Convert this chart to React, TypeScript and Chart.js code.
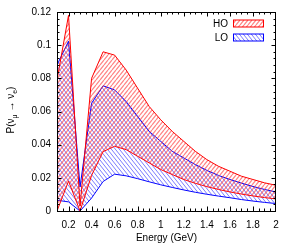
import React, { useEffect, useRef } from "react";
import { Chart, registerables } from "chart.js";

Chart.register(...registerables);

const energies = [0.1, 0.2, 0.3, 0.4, 0.5, 0.6, 0.7, 0.8, 0.9, 1.0, 1.1, 1.2, 1.3, 1.4, 1.5, 1.6, 1.7, 1.8, 1.9, 2.0];
const hoUpper = [0.079, 0.118, 0.003, 0.08, 0.096, 0.094, 0.085, 0.074, 0.063, 0.055, 0.048, 0.042, 0.036, 0.031, 0.027, 0.024, 0.021, 0.019, 0.017, 0.0155];
const hoLower = [0.0, 0.018, 0.0, 0.0215, 0.0358, 0.039, 0.037, 0.033, 0.029, 0.025, 0.022, 0.019, 0.0167, 0.0147, 0.013, 0.0115, 0.0102, 0.0091, 0.0081, 0.0073];
const loUpper = [0.088, 0.1024, 0.0145, 0.065, 0.0755, 0.073, 0.066, 0.057, 0.048, 0.042, 0.036, 0.032, 0.028, 0.0245, 0.0215, 0.019, 0.0168, 0.0148, 0.013, 0.0115];
const loLower = [0.0065, 0.0055, 0.0, 0.0078, 0.0178, 0.0222, 0.0212, 0.0195, 0.0176, 0.0158, 0.0142, 0.0127, 0.0113, 0.0101, 0.009, 0.008, 0.0069, 0.006, 0.0052, 0.0045];
const xTicks = [0.2, 0.4, 0.6, 0.8, 1.0, 1.2, 1.4, 1.6, 1.8, 2.0];
const yTicks = [0, 0.02, 0.04, 0.06, 0.08, 0.1, 0.12];
const seriesNames = ["HO", "LO"];
const xTitle = "Energy (GeV)";

const FONT = "'Liberation Sans', Arial, Helvetica, sans-serif";

function makePattern(color: string, forward: boolean, lw: number): CanvasPattern | string {
  const w = 4;
  const h = 5;
  const c = document.createElement("canvas");
  c.width = w;
  c.height = h;
  const g = c.getContext("2d");
  if (!g) return color;
  g.clearRect(0, 0, w, h);
  g.strokeStyle = color;
  g.lineWidth = lw;
  g.beginPath();
  for (const off of [-w, 0, w]) {
    if (forward) {
      g.moveTo(off, h);
      g.lineTo(off + w, 0);
    } else {
      g.moveTo(off, 0);
      g.lineTo(off + w, h);
    }
  }
  g.stroke();
  const p = g.createPattern(c, "repeat");
  return p || color;
}

const fmt = (v: number) => String(Number(v.toFixed(3)));

export default function App() {
  const ref = useRef<HTMLCanvasElement | null>(null);

  useEffect(() => {
    document.body.style.margin = "0";
    const canvas = ref.current;
    if (!canvas) return;
    const redPat = makePattern("rgba(255,50,50,0.6)", true, 1.2);
    const bluePat = makePattern("rgba(50,50,255,0.65)", false, 1.0);
    const red = "rgb(255,0,0)";
    const blue = "rgb(0,0,255)";
    const toPts = (arr: number[]) => arr.map((v, i) => ({ x: energies[i], y: v }));

    const decor = {
      id: "decor",
      afterDraw(chart: any) {
        const ctx = chart.ctx;
        const a = chart.chartArea;
        const xs = chart.scales.x;
        const ys = chart.scales.y;
        ctx.save();
        ctx.strokeStyle = "#000";
        ctx.lineWidth = 1;
        ctx.beginPath();
        for (let k = 3; k < 40; k++) {
          const v = k * 0.05;
          const major = k % 4 === 0;
          const len = major ? 4.5 : 2.5;
          const px = Math.round(xs.getPixelForValue(v)) + 0.5;
          ctx.moveTo(px, a.bottom);
          ctx.lineTo(px, a.bottom - len);
          ctx.moveTo(px, a.top);
          ctx.lineTo(px, a.top + len);
        }
        for (let k = 1; k < 30; k++) {
          const v = k * 0.004;
          const major = k % 5 === 0;
          const len = major ? 4.5 : 2.5;
          const py = Math.round(ys.getPixelForValue(v)) + 0.5;
          ctx.moveTo(a.left, py);
          ctx.lineTo(a.left + len, py);
          ctx.moveTo(a.right, py);
          ctx.lineTo(a.right - len, py);
        }
        ctx.stroke();
        ctx.strokeRect(a.left + 0.5, a.top + 0.5, a.right - a.left - 1, a.bottom - a.top);

        // legend
        ctx.font = `10px ${FONT}`;
        ctx.textAlign = "right";
        ctx.textBaseline = "middle";
        const rows = [
          { name: seriesNames[0], y: 23.5, pat: redPat, col: red },
          { name: seriesNames[1], y: 37.5, pat: bluePat, col: blue },
        ];
        for (const r of rows) {
          ctx.fillStyle = "#000";
          ctx.fillText(r.name, 228, r.y + 0.5);
          ctx.fillStyle = r.pat as any;
          ctx.fillRect(233, r.y - 3.5, 30, 7);
          ctx.strokeStyle = r.col;
          ctx.strokeRect(233.5, r.y - 3.5, 30, 7);
        }

        // x title
        ctx.fillStyle = "#000";
        ctx.textAlign = "center";
        ctx.textBaseline = "alphabetic";
        ctx.font = `10px ${FONT}`;
        ctx.fillText(xTitle, (a.left + a.right) / 2, 241);

        // y title with subscripts
        ctx.translate(14, 110);
        ctx.rotate(-Math.PI / 2);
        const main = `10px ${FONT}`;
        const sub = `7px ${FONT}`;
        const parts: [string, boolean][] = [
          ["P(\u03bd", false],
          ["\u03bc", true],
          [" \u2192 \u03bd", false],
          ["e", true],
          [")", false],
        ];
        let total = 0;
        for (const [t, s] of parts) {
          ctx.font = s ? sub : main;
          total += ctx.measureText(t).width;
        }
        let x = -total / 2;
        ctx.textAlign = "left";
        for (const [t, s] of parts) {
          ctx.font = s ? sub : main;
          ctx.fillText(t, x, s ? 2.5 : 0);
          x += ctx.measureText(t).width;
        }
        ctx.restore();
      },
    };

    const chart = new Chart(canvas, {
      type: "line",
      data: {
        datasets: [
          { label: "HO upper", data: toPts(hoUpper), borderColor: red, borderWidth: 1, pointRadius: 0, fill: "+1", backgroundColor: redPat as any, tension: 0 },
          { label: "HO lower", data: toPts(hoLower), borderColor: red, borderWidth: 1, pointRadius: 0, fill: false, tension: 0 },
          { label: "LO upper", data: toPts(loUpper), borderColor: blue, borderWidth: 1, pointRadius: 0, fill: "+1", backgroundColor: bluePat as any, tension: 0 },
          { label: "LO lower", data: toPts(loLower), borderColor: blue, borderWidth: 1, pointRadius: 0, fill: false, tension: 0 },
        ],
      },
      options: {
        animation: false,
        responsive: false,
        layout: { padding: { top: 12, right: 18, left: 0, bottom: 0 } },
        plugins: { legend: { display: false }, tooltip: { enabled: false }, title: { display: false } },
        scales: {
          x: {
            type: "linear",
            min: 0.1,
            max: 2,
            grid: { display: false, drawTicks: false },
            border: { display: false },
            afterBuildTicks: (s: any) => { s.ticks = xTicks.map((v) => ({ value: v })); },
            afterFit: (s: any) => { s.height = 34; },
            ticks: { padding: 8, color: "#000", font: { size: 10, family: FONT }, maxRotation: 0, autoSkip: false, callback: (v: any) => fmt(Number(v)) },
          },
          y: {
            type: "linear",
            min: 0,
            max: 0.12,
            grid: { display: false, drawTicks: false },
            border: { display: false },
            afterBuildTicks: (s: any) => { s.ticks = yTicks.map((v) => ({ value: v })); },
            afterFit: (s: any) => { s.width = 57; },
            ticks: { padding: 6, color: "#000", font: { size: 10, family: FONT }, autoSkip: false, callback: (v: any) => fmt(Number(v)) },
          },
        },
      },
      plugins: [decor],
    });
    return () => chart.destroy();
  }, []);

  return (
    <div style={{ width: 294, height: 245 }}>
      <canvas ref={ref} width={294} height={245} style={{ display: "block" }} />
    </div>
  );
}
